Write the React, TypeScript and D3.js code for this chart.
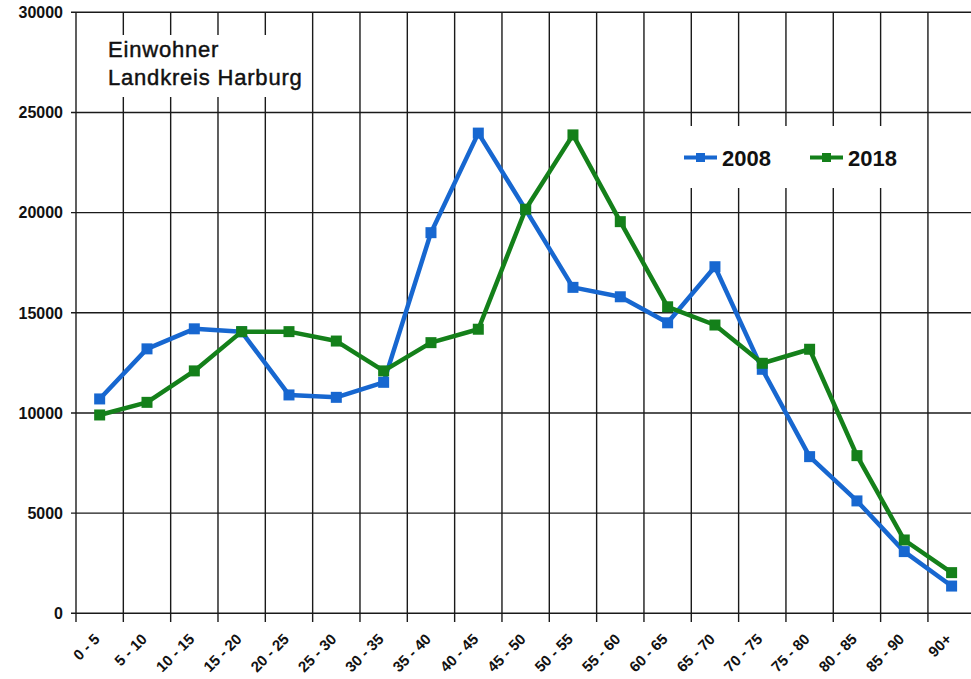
import React from 'react';
import * as d3 from 'd3';

const categories = ['0 - 5', '5 - 10', '10 - 15', '15 - 20', '20 - 25', '25 - 30', '30 - 35', '35 - 40', '40 - 45', '45 - 50', '50 - 55', '55 - 60', '60 - 65', '65 - 70', '70 - 75', '75 - 80', '80 - 85', '85 - 90', '90+'];
const values2008 = [10700, 13200, 14200, 14050, 10900, 10780, 11530, 19000, 23970, 20150, 16270, 15800, 14500, 17300, 12180, 7820, 5610, 3080, 1360];
const values2018 = [9900, 10530, 12100, 14060, 14060, 13590, 12100, 13510, 14180, 20170, 23880, 19550, 15300, 14390, 12480, 13180, 7870, 3660, 2030];
const yTicks = [0, 5000, 10000, 15000, 20000, 25000, 30000];

const series = [
  { name: '2008', values: values2008, color: '#1767d0' },
  { name: '2018', values: values2018, color: '#14801a' },
];

const W = 971;
const H = 679;
const left = 76;
const step = 47.33;
const font = '"Liberation Sans", Arial, sans-serif';

export default function App() {
  const x = d3.scaleBand<string>().domain(categories).range([left, left + step * categories.length]);
  const y = d3.scaleLinear().domain([0, 30000]).range([613.3, 12.3]);
  const cx = (c: string) => (x(c) as number) + x.bandwidth() / 2;

  const line = d3.line<number>()
    .x((_, i) => cx(categories[i]))
    .y(d => y(d));

  return (
    <svg width={W} height={H} style={{ position: 'absolute', left: 0, top: 0, background: '#fff' }}>
      {/* horizontal grid + y labels */}
      {yTicks.map(t => (
        <g key={t}>
          <line x1={71} x2={W} y1={y(t)} y2={y(t)} stroke="#1a1a1a" strokeWidth={1.4} />
          <text x={63} y={y(t)} dy="0.36em" textAnchor="end" fontFamily={font} fontWeight="bold" fontSize={16} fill="#111">{t}</text>
        </g>
      ))}
      {/* vertical grid */}
      {categories.map(c => (
        <line key={c} x1={x(c)} x2={x(c)} y1={y(30000)} y2={622} stroke="#1a1a1a" strokeWidth={1.4} />
      ))}
      {/* x labels */}
      {categories.map(c => (
        <text key={c} transform={`translate(${cx(c) + 1},${640}) rotate(-45)`} textAnchor="end"
          fontFamily={font} fontWeight="bold" fontSize={15} fill="#111">{c}</text>
      ))}

      {/* title box */}
      <rect x={98} y={35} width={210} height={62} fill="#fff" />
      <g fontFamily={font} fontSize={22} letterSpacing={0.8} fill="#111" stroke="#111" strokeWidth={0.45}>
        <text x={108} y={57}>Einwohner</text>
        <text x={108} y={85}>Landkreis Harburg</text>
      </g>

      {/* legend */}
      <rect x={676} y={126} width={240} height={62} fill="#fff" />
      {series.map((s, i) => {
        const lx = 684 + i * 126;
        return (
          <g key={s.name}>
            <line x1={lx} x2={lx + 33} y1={157.5} y2={157.5} stroke={s.color} strokeWidth={4} />
            <rect x={lx + 12} y={153} width={9} height={9} fill={s.color} />
            <text x={lx + 38} y={165.5} fontFamily={font} fontWeight="bold" fontSize={22} fill="#111">{s.name}</text>
          </g>
        );
      })}

      {/* series */}
      {series.map(s => (
        <g key={s.name}>
          <path d={line(s.values) as string} fill="none" stroke={s.color} strokeWidth={4.5} strokeLinejoin="round" />
          {s.values.map((v, i) => (
            <rect key={i} x={cx(categories[i]) - 5.5} y={y(v) - 5.5} width={11} height={11} fill={s.color} />
          ))}
        </g>
      ))}
    </svg>
  );
}
